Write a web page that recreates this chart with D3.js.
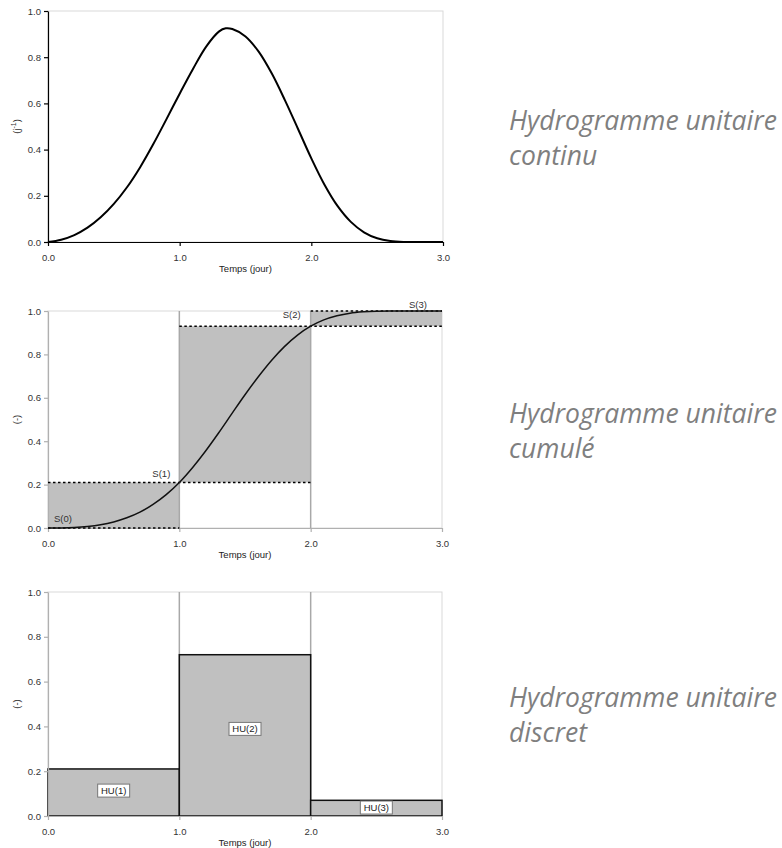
<!DOCTYPE html>
<html>
<head>
<meta charset="utf-8">
<script src="https://cdn.jsdelivr.net/npm/d3@7"></script>
<style>
  body { margin: 0; background: #fff; }
  text { font-family: "Liberation Sans", Arial, sans-serif; }
</style>
</head>
<body>
<div id="chart"></div>
<script>
// time axis (days) and the values
var tDays = [0, 0.1, 0.2, 0.3, 0.4, 0.5, 0.6, 0.7, 0.8, 0.9, 1.0, 1.1, 1.2, 1.3, 1.35, 1.4, 1.5,
             1.6, 1.7, 1.8, 1.9, 2.0, 2.1, 2.2, 2.3, 2.4, 2.5, 2.6, 2.7, 2.8, 2.9, 3.0]
var huContinu = [0, 0.01, 0.03, 0.062, 0.107, 0.165, 0.237, 0.324, 0.424, 0.532, 0.642, 0.748, 0.845, 0.912, 0.925, 0.922, 0.89,
                 0.824, 0.729, 0.613, 0.488, 0.362, 0.248, 0.155, 0.087, 0.042, 0.016, 0.004, 0, 0, 0, 0]

var tCumul = [0, 0.1, 0.2, 0.3, 0.4, 0.5, 0.6, 0.7, 0.8, 0.9, 1.0, 1.1, 1.2, 1.3, 1.4, 1.5,
              1.6, 1.7, 1.8, 1.9, 2.0, 2.1, 2.2, 2.3, 2.4, 2.5, 2.6, 2.8, 3.0]
var sCumul = [0, 0.0005, 0.0025, 0.007, 0.015, 0.028, 0.047, 0.073, 0.109, 0.154, 0.21, 0.278, 0.355, 0.439, 0.527, 0.614,
              0.696, 0.771, 0.836, 0.889, 0.93, 0.959, 0.978, 0.99, 0.996, 0.999, 1.0, 1.0, 1.0]

var sSteps = [0, 1, 2, 3]
var sValues = [0, 0.21, 0.93, 1.0]
var sLabels = ["S(0)", "S(1)", "S(2)", "S(3)"]

var huDiscret = [0.21, 0.72, 0.07]
var huLabels = ["HU(1)", "HU(2)", "HU(3)"]

var xTicks = [0, 1, 2, 3]
var yTicks = [0, 0.2, 0.4, 0.6, 0.8, 1.0]

var descriptions = [
    ["Hydrogramme unitaire", "continu"],
    ["Hydrogramme unitaire", "cumulé"],
    ["Hydrogramme unitaire", "discret"]
]

var width = 782
var height = 848
var fmt = d3.format(".1f")

var svg = d3.select("#chart")
    .append("svg")
    .attr("width", width)
    .attr("height", height)

// one panel = scales + frame + axes
function makePanel(top, bottom, right, axisColor, yTitle) {
    var x = d3.scaleLinear().domain([0, 3]).range([48, right])
    var y = d3.scaleLinear().domain([0, 1]).range([bottom, top])
    var g = svg.append("g")
    var back = g.append("g")
    var front = g.append("g")

    back.append("rect")
        .attr("x", x(0)).attr("y", y(1))
        .attr("width", x(3) - x(0)).attr("height", y(0) - y(1))
        .attr("fill", "none")
        .attr("stroke", "#d9d9d9")
        .attr("stroke-width", 1)

    var xAxis = front.append("g")
        .attr("transform", "translate(0," + y(0) + ")")
        .call(d3.axisBottom(x).tickValues(xTicks).tickFormat(fmt).tickSize(4).tickSizeOuter(0))
    var yAxis = front.append("g")
        .attr("transform", "translate(" + x(0) + ",0)")
        .call(d3.axisLeft(y).tickValues(yTicks).tickFormat(fmt).tickSize(4).tickSizeOuter(0))

    ;[xAxis, yAxis].forEach(function(a) {
        a.selectAll("path, line").attr("stroke", axisColor).attr("stroke-width", 1.2)
        a.selectAll("text")
            .attr("fill", "#333")
            .style("font-size", "9.5px")
            .style("font-family", "'Liberation Sans', Arial, sans-serif")
    })
    xAxis.selectAll("text").attr("dy", "1.3em")
    yAxis.selectAll("text").attr("x", -7)

    front.append("text")
        .attr("x", (x(0) + x(3)) / 2)
        .attr("y", y(0) + 30)
        .attr("text-anchor", "middle")
        .attr("fill", "#222")
        .style("font-size", "9.5px")
        .text("Temps (jour)")

    var yt = front.append("text")
        .attr("transform", "translate(20," + (y(0) + y(1)) / 2 + ") rotate(-90)")
        .attr("text-anchor", "middle")
        .attr("fill", "#333")
        .style("font-size", "9.5px")
    yTitle(yt)

    return { x: x, y: y, back: back, front: front, g: g }
}

// ---------- panel 1 : continuous unit hydrograph ----------
var p1 = makePanel(11, 242, 443, "#000", function(t) {
    t.append("tspan").text("(j")
    t.append("tspan").attr("dy", -4).style("font-size", "7px").text("-1")
    t.append("tspan").attr("dy", 4).text(")")
})

p1.back.append("path")
    .datum(tDays.map(function(d, i) { return [d, huContinu[i]] }))
    .attr("fill", "none")
    .attr("stroke", "#000")
    .attr("stroke-width", 2)
    .attr("d", d3.line().curve(d3.curveCatmullRom.alpha(0.5))
        .x(function(d) { return p1.x(d[0]) })
        .y(function(d) { return p1.y(Math.max(0, d[1])) }))

// ---------- panel 2 : cumulative (S-curve) ----------
var p2 = makePanel(311, 528, 442, "#b0b0b0", function(t) { t.text("(-)") })

// shaded blocks between consecutive S values
p2.back.selectAll(".blk")
    .data(sValues.slice(1))
    .enter()
    .append("rect")
    .attr("x", function(d, i) { return p2.x(i) })
    .attr("width", function(d, i) { return p2.x(i + 1) - p2.x(i) })
    .attr("y", function(d) { return p2.y(d) })
    .attr("height", function(d, i) { return p2.y(sValues[i]) - p2.y(d) })
    .attr("fill", "#c0c0c0")

// vertical separators
p2.back.selectAll(".grid")
    .data([1, 2])
    .enter()
    .append("line")
    .attr("x1", function(d) { return p2.x(d) })
    .attr("x2", function(d) { return p2.x(d) })
    .attr("y1", p2.y(0))
    .attr("y2", p2.y(1))
    .attr("stroke", "#a8a8a8")
    .attr("stroke-width", 1.5)

// dotted levels S(i) from i-1 to i+1
p2.front.selectAll(".lvl")
    .data(sSteps)
    .enter()
    .append("line")
    .attr("x1", function(d) { return p2.x(Math.max(0, d - 1)) })
    .attr("x2", function(d) { return p2.x(Math.min(3, d + 1)) })
    .attr("y1", function(d, i) { return p2.y(sValues[i]) })
    .attr("y2", function(d, i) { return p2.y(sValues[i]) })
    .attr("stroke", "#000")
    .attr("stroke-width", 1.5)
    .attr("stroke-dasharray", "2.5,2.5")

p2.front.append("path")
    .datum(tCumul.map(function(d, i) { return [d, sCumul[i]] }))
    .attr("fill", "none")
    .attr("stroke", "#111")
    .attr("stroke-width", 1.5)
    .attr("d", d3.line().curve(d3.curveMonotoneX)
        .x(function(d) { return p2.x(d[0]) })
        .y(function(d) { return p2.y(d[1]) }))

var sOff = [[15, -6], [-18, -5], [-19, -8], [-24, -3]]
p2.front.selectAll(".slab")
    .data(sSteps)
    .enter()
    .append("text")
    .attr("x", function(d, i) { return p2.x(d) + sOff[i][0] })
    .attr("y", function(d, i) { return p2.y(sValues[i]) + sOff[i][1] })
    .attr("text-anchor", "middle")
    .attr("fill", "#333")
    .style("font-size", "9.5px")
    .text(function(d, i) { return sLabels[i] })

// ---------- panel 3 : discrete unit hydrograph ----------
var p3 = makePanel(592, 816, 442, "#b0b0b0", function(t) { t.text("(-)") })

p3.back.selectAll(".grid")
    .data([1, 2])
    .enter()
    .append("line")
    .attr("x1", function(d) { return p3.x(d) })
    .attr("x2", function(d) { return p3.x(d) })
    .attr("y1", p3.y(0))
    .attr("y2", p3.y(1))
    .attr("stroke", "#a8a8a8")
    .attr("stroke-width", 1.5)

p3.back.selectAll(".bar")
    .data(huDiscret)
    .enter()
    .append("rect")
    .attr("x", function(d, i) { return p3.x(i) })
    .attr("width", function(d, i) { return p3.x(i + 1) - p3.x(i) })
    .attr("y", function(d) { return p3.y(d) })
    .attr("height", function(d) { return p3.y(0) - p3.y(d) })
    .attr("fill", "#c0c0c0")
    .attr("stroke", "#111")
    .attr("stroke-width", 1.5)

var hl = p3.front.selectAll(".hul")
    .data(huDiscret)
    .enter()
    .append("g")
    .attr("transform", function(d, i) {
        return "translate(" + p3.x(i + 0.5) + "," + p3.y(d * 0.54) + ")"
    })
hl.append("rect")
    .attr("x", -16).attr("y", -6.5)
    .attr("width", 32).attr("height", 13)
    .attr("fill", "#fff")
    .attr("stroke", "#777")
    .attr("stroke-width", 1)
hl.append("text")
    .attr("text-anchor", "middle")
    .attr("dy", "0.35em")
    .attr("fill", "#222")
    .style("font-size", "9.5px")
    .text(function(d, i) { return huLabels[i] })

// ---------- side captions ----------
var panels = [p1, p2, p3]
panels.forEach(function(p, k) {
    var mid = (p.y(0) + p.y(1)) / 2
    var cap = svg.append("g")
    descriptions[k].forEach(function(line, j) {
        cap.append("text")
            .attr("class", "cap")
            .attr("x", 509)
            .attr("y", mid + 3 + j * 35)
            .attr("fill", "#7f7f7f")
            .style("font-family", "'Open Sans', 'Noto Sans', sans-serif")
            .style("font-style", "italic")
            .style("font-size", "22px")
            .text(line)
    })
})

// fit caption width to the reference (~268px for the first line)
var first = svg.select(".cap").node()
var w = first.getComputedTextLength()
var fs = 22 * 268 / w
svg.selectAll(".cap").style("font-size", fs + "px")
</script>
</body>
</html>
